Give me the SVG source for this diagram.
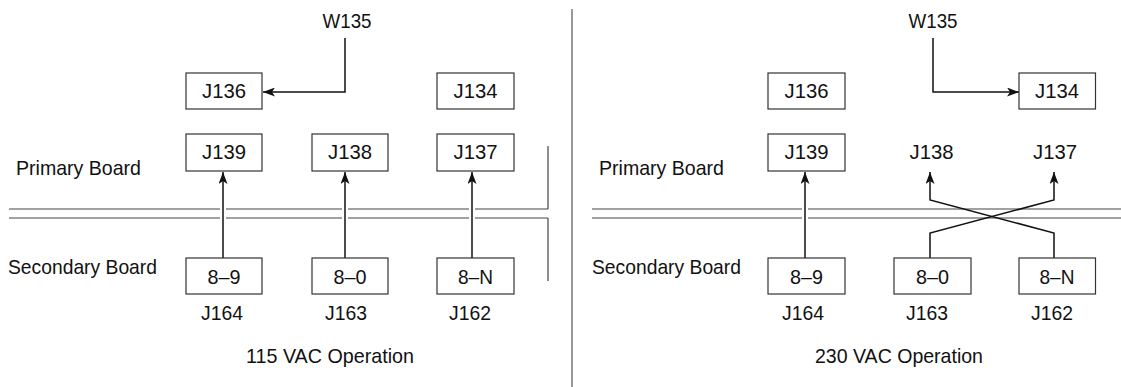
<svg xmlns="http://www.w3.org/2000/svg" width="1121" height="387" viewBox="0 0 1121 387">
<style>
text{font-family:"Liberation Sans",Arial,sans-serif;font-size:21px;fill:#111}
.c{text-anchor:middle}
.box{fill:#fff;stroke:#333;stroke-width:1.2}
.bd{stroke:#444;stroke-width:1.2;fill:none}
.w{stroke:#111;stroke-width:1.5;fill:none}
.halo{stroke:#fff;stroke-width:6;fill:none}
.div{stroke:#777;stroke-width:1.5}
</style>
<defs>
<marker id="ah" viewBox="0 0 12 9" markerWidth="12" markerHeight="9" refX="12" refY="4.5" orient="auto" markerUnits="userSpaceOnUse">
<path d="M0,0 L12,4.5 L0,9 L3,4.5 z" fill="#111"/>
</marker>
</defs>

<line class="div" x1="572" y1="9" x2="572" y2="387"/>

<g id="boards-left">
<line class="bd" x1="9" y1="209" x2="548" y2="209"/>
<line class="bd" x1="9" y1="218" x2="548" y2="218"/>
<line class="bd" x1="548" y1="146" x2="548" y2="209"/>
<line class="bd" x1="548" y1="218" x2="548" y2="281"/>
<text x="16" y="175" textLength="125" lengthAdjust="spacingAndGlyphs">Primary Board</text>
<text x="8" y="274" textLength="149" lengthAdjust="spacingAndGlyphs">Secondary Board</text>
<text class="c" x="330" y="363" textLength="168" lengthAdjust="spacingAndGlyphs">115 VAC Operation</text>
</g>
<g id="boards-right">
<line class="bd" x1="592" y1="209" x2="1121" y2="209"/>
<line class="bd" x1="592" y1="218" x2="1121" y2="218"/>
<text x="599" y="175" textLength="125" lengthAdjust="spacingAndGlyphs">Primary Board</text>
<text x="592" y="274" textLength="149" lengthAdjust="spacingAndGlyphs">Secondary Board</text>
<text class="c" x="899" y="363" textLength="168" lengthAdjust="spacingAndGlyphs">230 VAC Operation</text>
</g>

<g id="connectors">
<line class="halo" x1="223" y1="204" x2="223" y2="223"/>
<line class="halo" x1="345" y1="204" x2="345" y2="223"/>
<line class="halo" x1="472" y1="204" x2="472" y2="223"/>
<line class="halo" x1="805" y1="204" x2="805" y2="223"/>
<polyline class="w" points="345,38 345,92 263,92" marker-end="url(#ah)"/>
<line class="w" x1="223" y1="258" x2="223" y2="172" marker-end="url(#ah)"/>
<line class="w" x1="345" y1="258" x2="345" y2="172" marker-end="url(#ah)"/>
<line class="w" x1="472" y1="258" x2="472" y2="172" marker-end="url(#ah)"/>
<polyline class="w" points="933,38 933,92 1019,92" marker-end="url(#ah)"/>
<line class="w" x1="805" y1="258" x2="805" y2="172" marker-end="url(#ah)"/>
<polyline class="w" points="1054,258 1054,233 930,200 930,172" marker-end="url(#ah)"/>
<polyline class="w" points="930,258 930,233 1054,200 1054,172" marker-end="url(#ah)"/>
</g>

<g id="W135-left"><text class="c" x="347" y="28" textLength="49" lengthAdjust="spacingAndGlyphs">W135</text></g>
<g id="J136-left"><rect class="box" x="186" y="73" width="76" height="36"/><text class="c" x="224" y="98" textLength="44" lengthAdjust="spacingAndGlyphs">J136</text></g>
<g id="J134-left"><rect class="box" x="437" y="73" width="77" height="36"/><text class="c" x="475.5" y="98" textLength="44" lengthAdjust="spacingAndGlyphs">J134</text></g>
<g id="J139-left"><rect class="box" x="186" y="134" width="76" height="37"/><text class="c" x="224" y="159" textLength="44" lengthAdjust="spacingAndGlyphs">J139</text></g>
<g id="J138-left"><rect class="box" x="312" y="134" width="76" height="37"/><text class="c" x="350" y="159" textLength="44" lengthAdjust="spacingAndGlyphs">J138</text></g>
<g id="J137-left"><rect class="box" x="437" y="134" width="77" height="37"/><text class="c" x="475.5" y="159" textLength="44" lengthAdjust="spacingAndGlyphs">J137</text></g>
<g id="J164-left"><rect class="box" x="186" y="258" width="76" height="36"/><text class="c" x="224" y="284" textLength="33" lengthAdjust="spacingAndGlyphs">8–9</text><text class="c" x="222" y="320" textLength="42" lengthAdjust="spacingAndGlyphs">J164</text></g>
<g id="J163-left"><rect class="box" x="312" y="258" width="76" height="36"/><text class="c" x="350" y="284" textLength="33" lengthAdjust="spacingAndGlyphs">8–0</text><text class="c" x="346" y="320" textLength="42" lengthAdjust="spacingAndGlyphs">J163</text></g>
<g id="J162-left"><rect class="box" x="437" y="258" width="77" height="36"/><text class="c" x="475.5" y="284" textLength="35" lengthAdjust="spacingAndGlyphs">8–N</text><text class="c" x="470" y="320" textLength="42" lengthAdjust="spacingAndGlyphs">J162</text></g>

<g id="W135-right"><text class="c" x="933" y="28" textLength="49" lengthAdjust="spacingAndGlyphs">W135</text></g>
<g id="J136-right"><rect class="box" x="768" y="73" width="77" height="36"/><text class="c" x="806.5" y="98" textLength="44" lengthAdjust="spacingAndGlyphs">J136</text></g>
<g id="J134-right"><rect class="box" x="1019" y="73" width="76.5" height="36"/><text class="c" x="1057" y="98" textLength="44" lengthAdjust="spacingAndGlyphs">J134</text></g>
<g id="J139-right"><rect class="box" x="768" y="134" width="77" height="37"/><text class="c" x="806.5" y="159" textLength="44" lengthAdjust="spacingAndGlyphs">J139</text></g>
<g id="J138-right"><text class="c" x="931.5" y="159" textLength="44" lengthAdjust="spacingAndGlyphs">J138</text></g>
<g id="J137-right"><text class="c" x="1055" y="159" textLength="44" lengthAdjust="spacingAndGlyphs">J137</text></g>
<g id="J164-right"><rect class="box" x="768" y="258" width="77" height="36"/><text class="c" x="806.5" y="284" textLength="33" lengthAdjust="spacingAndGlyphs">8–9</text><text class="c" x="803" y="320" textLength="42" lengthAdjust="spacingAndGlyphs">J164</text></g>
<g id="J163-right"><rect class="box" x="894" y="258" width="77" height="36"/><text class="c" x="932.5" y="284" textLength="33" lengthAdjust="spacingAndGlyphs">8–0</text><text class="c" x="927" y="320" textLength="42" lengthAdjust="spacingAndGlyphs">J163</text></g>
<g id="J162-right"><rect class="box" x="1019" y="258" width="76.5" height="36"/><text class="c" x="1057" y="284" textLength="35" lengthAdjust="spacingAndGlyphs">8–N</text><text class="c" x="1052" y="320" textLength="42" lengthAdjust="spacingAndGlyphs">J162</text></g>
</svg>
